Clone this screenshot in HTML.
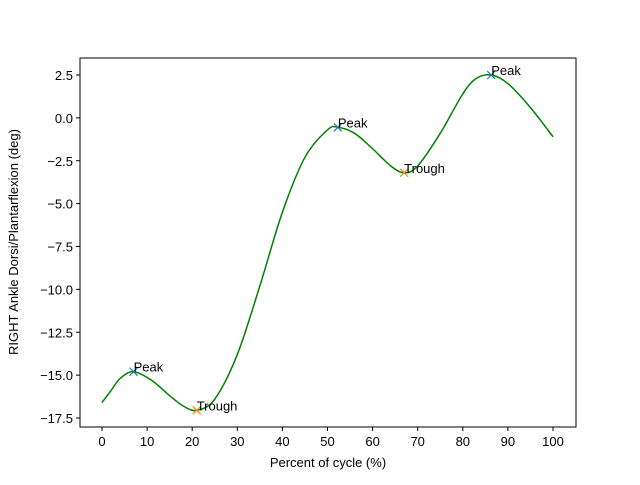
<!DOCTYPE html>
<html><head><meta charset="utf-8"><style>
body{margin:0;background:#fff}
svg text{font-family:"Liberation Sans","DejaVu Sans",sans-serif;font-size:13px;fill:#000}
</style></head><body>
<svg width="640" height="480">
<rect x="0" y="0" width="640" height="480" fill="#fff"/>
<g id="axes"></g>
<g id="plot"></g>
</svg>
<script>
const xs=[0,2,4,7,11,15,18,21,25,30,35,40,45,50,52.3,56,60,64,67,70,75,80,83,86.3,90,95,100];
const ys=[-16.6,-15.9,-15.2,-14.8,-15.3,-16.2,-16.8,-17.05,-16.4,-13.8,-9.8,-5.5,-2.3,-0.7,-0.55,-0.9,-1.8,-2.8,-3.2,-2.8,-0.9,1.4,2.3,2.5,2.0,0.6,-1.1];
const markX=[7,21,52.3,67,86.3];
const markY=[-14.8,-17.05,-0.55,-3.2,2.5];
const markLabel=["Peak","Trough","Peak","Trough","Peak"];
const xTicks=[0,10,20,30,40,50,60,70,80,90,100];
const yTicks=[2.5,0,-2.5,-5,-7.5,-10,-12.5,-15,-17.5];
const NS="http://www.w3.org/2000/svg";
const X=v=>102+v*4.51, Y=v=>75+(2.5-v)*17.15;
function mk(t,a,p){const e=document.createElementNS(NS,t);for(const k in a)e.setAttribute(k,a[k]);p.appendChild(e);return e;}
const ax=document.getElementById('axes'),pl=document.getElementById('plot');
const frame=mk('rect',{x:80,y:58,width:496,height:369,fill:'none',stroke:'#000','stroke-width':1},ax);


xTicks.forEach(t=>{mk('line',{x1:X(t),x2:X(t),y1:427,y2:431,stroke:'#000'},ax);
const tx=mk('text',{x:X(t),y:446,'text-anchor':'middle'},ax);tx.textContent=t;

});
yTicks.forEach(t=>{mk('line',{x1:76,x2:80,y1:Y(t),y2:Y(t),stroke:'#000'},ax);
const tx=mk('text',{x:73,y:Y(t)+5,'text-anchor':'end'},ax);tx.textContent=t.toFixed(1).replace('-','\u2212');

});
const xl=mk('text',{x:328,y:467,'text-anchor':'middle'},ax);xl.textContent='Percent of cycle (%)';


const yl=mk('text',{x:18,y:242,'text-anchor':'middle',transform:'rotate(-90 18 242)'},ax);yl.textContent='RIGHT Ankle Dorsi/Plantarflexion (deg)';


const P=xs.map((x,i)=>[X(x),Y(ys[i])]);
let d='M'+P[0][0]+','+P[0][1];
for(let i=0;i<P.length-1;i++){const p0=P[Math.max(i-1,0)],p1=P[i],p2=P[i+1],p3=P[Math.min(i+2,P.length-1)];
d+=' C'+(p1[0]+(p2[0]-p0[0])/6)+','+(p1[1]+(p2[1]-p0[1])/6)+' '+(p2[0]-(p3[0]-p1[0])/6)+','+(p2[1]-(p3[1]-p1[1])/6)+' '+p2[0]+','+p2[1];}
const line=mk('path',{d:d,fill:'none',stroke:'#008000','stroke-width':1.5},pl);


markX.forEach((mx,i)=>{const cx=X(mx),cy=Y(markY[i]);const c=markLabel[i]=='Peak'?'#1f77b4':'#ff7f0e';
const g=mk('g',{},pl);


mk('path',{d:`M${cx-4},${cy-4}L${cx+4},${cy+4}M${cx-4},${cy+4}L${cx+4},${cy-4}`,stroke:c,'stroke-width':1.2},g);
const t=mk('text',{x:cx,y:cy},pl);t.textContent=markLabel[i];

});
</script>
</body></html>
